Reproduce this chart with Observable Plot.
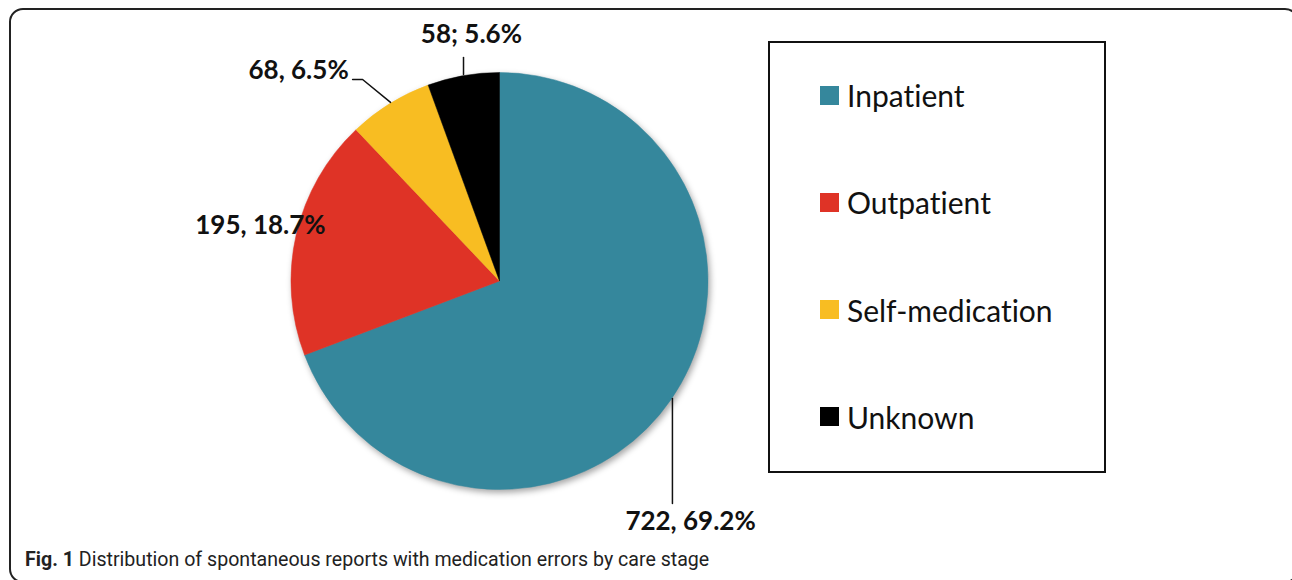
<!DOCTYPE html>
<html><head><meta charset="utf-8">
<script src="https://cdn.jsdelivr.net/npm/d3@7"></script>
<script src="https://cdn.jsdelivr.net/npm/@observablehq/plot@0.6"></script>
<style>
html,body{margin:0;padding:0;background:#fff;}
#page{position:relative;width:1292px;height:580px;overflow:hidden;font-family:Lato, "Open Sans", sans-serif;color:#111;font-variant-ligatures:none;}
#frame{position:absolute;left:9px;top:8px;width:1290px;height:575px;border:2px solid #222;border-radius:14px;box-sizing:border-box;}
#chart{position:absolute;left:0;top:0;}
#legend{position:absolute;left:768px;top:41px;width:338px;height:432px;border:2px solid #111;box-sizing:border-box;display:flex;flex-direction:column;justify-content:flex-start;padding-top:37px;gap:77.3px;background:#fff;}
.item{display:flex;align-items:center;margin-left:50px;font-size:30px;line-height:30px;height:30px;}
.sw{width:19px;height:19px;margin-right:8px;flex:none;}
#caption{position:absolute;left:25px;top:548px;font-family:Roboto, sans-serif;font-size:19.6px;color:#222;white-space:nowrap;}
#caption b{font-weight:700;}
g.pie{filter:drop-shadow(2px 3px 3px rgba(0,0,0,0.35));}
svg text{font-variant-ligatures:none;}
</style>
</head>
<body>
<div id="page">
  <div id="frame"></div>
  <div id="chart"></div>
  <div id="legend"></div>
  <div id="caption"><b>Fig. 1</b> Distribution of spontaneous reports with medication errors by care stage</div>
</div>
<script>
// ---- data ----
const categories = ["Inpatient", "Outpatient", "Self-medication", "Unknown"];
const counts = [722, 195, 68, 58];
const labelTexts = ["722, 69.2%", "195, 18.7%", "68, 6.5%", "58; 5.6%"];

// ---- styles / layout (radius units relative to pie centre) ----
const colors = ["#35879c", "#df3326", "#f8bd22", "#000000"];
const labelPos = [[0.914, -1.151], [-1.149, 0.269], [-0.966, 1.012], [-0.137, 1.185]];
const leaders = [
  [[0.827, -0.561], [0.827, -1.065]],
  null,
  [[-0.707, 0.969], [-0.659, 0.969], [-0.525, 0.859]],
  [[-0.175, 1.074], [-0.175, 0.993]]
];
const W = 760, H = 545, CX = 499.5, CY = 281, R = 208.5;

const data = categories.map((c, i) => ({category: c, value: counts[i]}));

// pie slices drawn through Plot's x / y / color scales
function pieMark(index, scales) {
  const cx = scales.x(0), cy = scales.y(0);
  const r = Math.abs(scales.x(1) - scales.x(0));
  const arcs = d3.pie().sort(null).value(d => d.value)(data);
  const arc = d3.arc().innerRadius(0).outerRadius(r);
  const g = d3.create("svg:g").attr("class", "pie").attr("transform", `translate(${cx},${cy})`);
  g.selectAll("path").data(arcs).join("path")
    .attr("d", arc)
    .attr("fill", a => scales.color(a.data.category))
    .attr("stroke", a => scales.color(a.data.category))
    .attr("stroke-width", 0.5);
  return g.node();
}

const labels = categories.map((c, i) => ({category: c, text: labelTexts[i], x: labelPos[i][0], y: labelPos[i][1]}));
const leaderPts = [];
leaders.forEach((l, i) => { if (l) l.forEach(p => leaderPts.push({id: i, x: p[0], y: p[1]})); });

const chart = Plot.plot({
  width: W, height: H,
  marginTop: 0, marginRight: 0, marginBottom: 0, marginLeft: 0,
  x: {domain: [-CX / R, (W - CX) / R], axis: null},
  y: {domain: [-(H - CY) / R, CY / R], axis: null},
  color: {domain: categories, range: colors},
  style: {background: "transparent", overflow: "visible"},
  marks: [
    pieMark,
    Plot.line(leaderPts, {x: "x", y: "y", z: "id", stroke: "#111", strokeWidth: 1.5}),
    Plot.text(labels, {x: "x", y: "y", text: "text", fontSize: 26, fontWeight: "bold", fontFamily: "Lato, sans-serif", fill: "#111", textAnchor: "middle"})
  ]
});
document.getElementById("chart").appendChild(chart);

// legend
const legend = document.getElementById("legend");
categories.forEach((c, i) => {
  const it = document.createElement("div");
  it.className = "item";
  it.innerHTML = `<span class="sw" style="background:${colors[i]}"></span><span>${c}</span>`;
  legend.appendChild(it);
});
</script>
</body></html>
